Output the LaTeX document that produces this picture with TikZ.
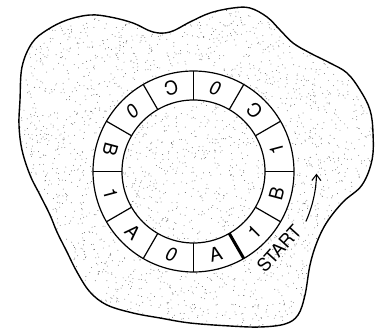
\documentclass[tikz,border=0pt]{standalone}
\usepackage{fontspec}
\setmainfont{TeX Gyre Heros}
\usetikzlibrary{arrows.meta}
\begin{document}
\begin{tikzpicture}[x=1pt,y=1pt,line join=round,
  lbl/.style={font=\fontsize{19}{19}\selectfont, inner sep=0pt},
  startlbl/.style={font=\fontsize{18}{18}\selectfont, inner sep=0pt},
  ringline/.style={line width=1.2pt},
  outline/.style={line width=1.4pt},
  stipple/.style={fill=black!60}]
\useasboundingbox (0,0) rectangle (382,331);
\coordinate (O) at (193.5,159.5);
% stippled background
\begin{scope}
\clip plot[smooth cycle, tension=0.6] coordinates {(20,231) (22,264) (32,288) (47,301) (67,311) (90,316) (110,314) (133,308) (153,299) (170,299) (190,309) (210,318) (233,323) (250,323) (267,314) (280,301) (293,288) (310,278) (330,268) (347,258) (360,241) (370,221) (373,198) (372,171) (362,146) (343,129) (327,109) (317,89) (310,66) (305,36) (298,16) (285,7) (260,4) (230,5) (190,8) (160,13) (133,18) (107,26) (90,39) (77,59) (67,79) (57,99) (50,116) (40,136) (30,156) (22,181) (19,206)};
\pgfmathsetseed{12345}
\foreach \i in {1,...,3300}{
  \pgfmathsetmacro\xx{12+rnd*365}
  \pgfmathsetmacro\yy{2+rnd*325}
  \fill[stipple] (\xx,\yy) circle (0.45pt);
}
\end{scope}
% ring
\fill[white, even odd rule] (O) circle (100.5) (O) circle (71.5);
\draw[ringline] (O) circle (100.5) (O) circle (71.5);
\foreach \a in {0,30,...,330}
  \draw[ringline] ([shift={(\a:71.5)}]O) -- ([shift={(\a:100.5)}]O);
\draw[line width=3pt] ([shift={(-60:71.5)}]O) -- ([shift={(-60:100.5)}]O);
% labels
\foreach \a/\t/\n in {-75/A/c1, -105/{\itshape 0}/c2, -135/A/c3, -165/1/c4,
    165/B/c5, 135/{\itshape 0}/c6, 105/C/c7, 75/{\itshape 0}/c8,
    45/C/c9, 15/1/c10, -15/B/c11, -45/1/c12}
  \node[lbl, rotate=\a+90] (\n) at ([shift={(\a:86)}]O) {\t};
% start
\node[startlbl, rotate=48] (start) at ([shift={(-42:115)}]O) {START};
\coordinate (arrS) at ([shift={(-24:123)}]O);
\draw[line width=1.1pt, -{Straight Barb[length=6pt,width=9pt]}] (arrS) arc[start angle=-24, end angle=-1, radius=123];
% outline
\draw[outline] plot[smooth cycle, tension=0.6] coordinates {(20,231) (22,264) (32,288) (47,301) (67,311) (90,316) (110,314) (133,308) (153,299) (170,299) (190,309) (210,318) (233,323) (250,323) (267,314) (280,301) (293,288) (310,278) (330,268) (347,258) (360,241) (370,221) (373,198) (372,171) (362,146) (343,129) (327,109) (317,89) (310,66) (305,36) (298,16) (285,7) (260,4) (230,5) (190,8) (160,13) (133,18) (107,26) (90,39) (77,59) (67,79) (57,99) (50,116) (40,136) (30,156) (22,181) (19,206)};
\end{tikzpicture}
\end{document}
